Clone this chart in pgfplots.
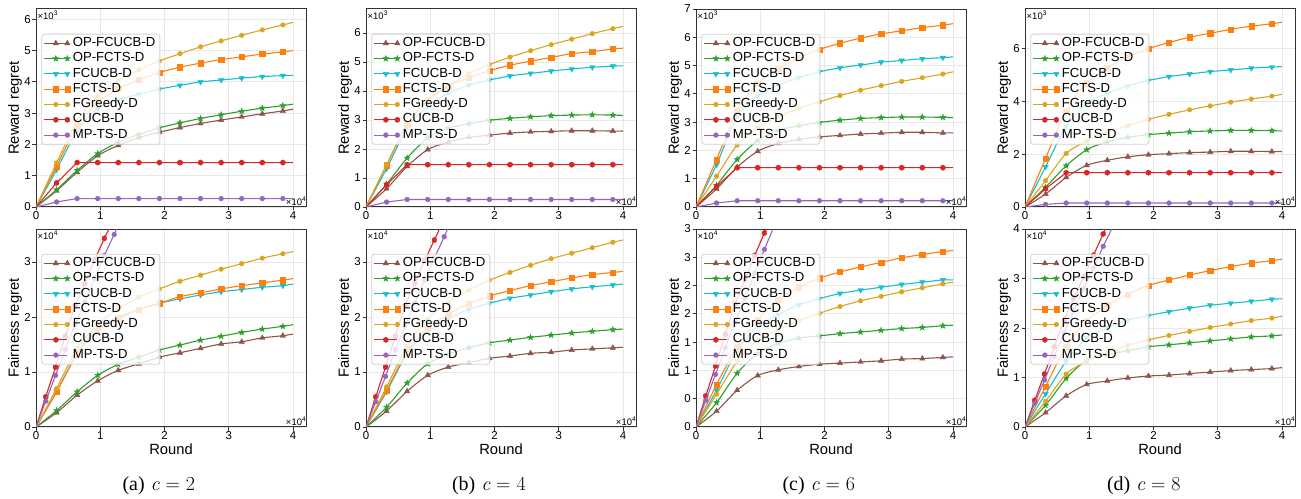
\documentclass[border=0pt]{standalone}
\usepackage{fontspec}
\setmainfont{Liberation Sans}
\newfontfamily\capfont{Liberation Serif}
\usepackage{pgfplots}
\pgfplotsset{compat=1.18}
\usepackage{pgfplotstable}
\usetikzlibrary{plotmarks}

\definecolor{cbrown}{HTML}{8C564B}
\definecolor{cgreen}{HTML}{2CA02C}
\definecolor{ccyan}{HTML}{17BECF}
\definecolor{corange}{HTML}{FF7F0E}
\definecolor{cgold}{HTML}{DBA520}
\definecolor{cred}{HTML}{D62728}
\definecolor{cpurple}{HTML}{9467BD}

\pgfdeclareplotmark{fstar}{%
 \pgfpathmoveto{\pgfpointpolar{90}{1.25\pgfplotmarksize}}%
 \pgfpathlineto{\pgfpointpolar{126}{0.5\pgfplotmarksize}}%
 \pgfpathlineto{\pgfpointpolar{162}{1.25\pgfplotmarksize}}%
 \pgfpathlineto{\pgfpointpolar{198}{0.5\pgfplotmarksize}}%
 \pgfpathlineto{\pgfpointpolar{234}{1.25\pgfplotmarksize}}%
 \pgfpathlineto{\pgfpointpolar{270}{0.5\pgfplotmarksize}}%
 \pgfpathlineto{\pgfpointpolar{306}{1.25\pgfplotmarksize}}%
 \pgfpathlineto{\pgfpointpolar{342}{0.5\pgfplotmarksize}}%
 \pgfpathlineto{\pgfpointpolar{18}{1.25\pgfplotmarksize}}%
 \pgfpathlineto{\pgfpointpolar{54}{0.5\pgfplotmarksize}}%
 \pgfpathclose\pgfusepathqfillstroke}
\pgfdeclareplotmark{hex}{%
 \pgfpathmoveto{\pgfpointpolar{90}{\pgfplotmarksize}}%
 \pgfpathlineto{\pgfpointpolar{150}{\pgfplotmarksize}}%
 \pgfpathlineto{\pgfpointpolar{210}{\pgfplotmarksize}}%
 \pgfpathlineto{\pgfpointpolar{270}{\pgfplotmarksize}}%
 \pgfpathlineto{\pgfpointpolar{330}{\pgfplotmarksize}}%
 \pgfpathlineto{\pgfpointpolar{30}{\pgfplotmarksize}}%
 \pgfpathclose\pgfusepathqfillstroke}

\newcommand\legfont{\fontsize{13.2}{14}\selectfont}

\pgfplotsset{
  panel/.style={
    scale only axis, width=270bp, height=198bp,
    xmin=0, xmax=4.2, ymin=0,
    xtick={0,1,2,3,4},
    clip mode=individual,
    axis line style={draw=black!80, line width=1bp},
    grid=major, grid style={draw=black!9, line width=0.8bp},
    tick align=outside, tick pos=left, major tick length=3.5bp,
    every tick/.style={draw=black!80, line width=0.8bp},
    ticklabel style={font=\fontsize{11.5}{13}\selectfont},
    xticklabel style={inner sep=1bp},
    yticklabel style={inner sep=1.5bp},
    /pgf/number format/assume math mode=true,
    label style={font=\fontsize{14.8}{17}\selectfont},
    ylabel style={at={(axis description cs:-0.078,0.5)}, anchor=center},
    xlabel style={at={(axis description cs:0.5,-0.111)}, anchor=center},
    legend style={at={(axis description cs:0.02,0.875)}, anchor=north west,
      draw=black!18, line width=0.8bp, fill=white, fill opacity=0.8,
      text opacity=1, draw opacity=1, rounded corners=2.5bp,
      font=\legfont, inner xsep=2bp, inner ysep=1.5bp,
      nodes={font=\legfont, text height=8.5bp, text depth=2.2bp, inner ysep=2.3bp, inner xsep=2.5bp},
      row sep=0pt},
    legend cell align=left,
    legend image code/.code={\draw[mark repeat=2,mark phase=2,##1] plot coordinates {(0bp,0bp)(11.5bp,0bp)(23bp,0bp)};},
    legend image post style={fill opacity=1, draw opacity=1},
    legend entries={OP-FCUCB-D,OP-FCTS-D,FCUCB-D,FCTS-D,FGreedy-D,CUCB-D,MP-TS-D},
  },
  sA/.style={cbrown, line width=1.1bp, smooth, tension=0.45, mark=triangle*, mark size=3.1bp, mark options={fill=cbrown, draw=cbrown, line width=0.4bp, solid}},
  sB/.style={cgreen, line width=1.1bp, smooth, tension=0.45, mark=fstar, mark size=2.5bp, mark options={fill=cgreen, draw=cgreen, line width=0.4bp, solid}},
  sC/.style={ccyan, line width=1.1bp, smooth, tension=0.45, mark=triangle*, mark size=3.1bp, mark options={fill=ccyan, draw=ccyan, rotate=180, line width=0.4bp, solid}},
  sD/.style={corange, line width=1.1bp, smooth, tension=0.45, mark=square*, mark size=2.6bp, mark options={fill=corange, draw=corange, line width=0.4bp, solid}},
  sE/.style={cgold, line width=1.1bp, smooth, tension=0.45, mark=*, mark size=2.3bp, mark options={fill=cgold, draw=cgold, line width=0.4bp, solid}},
  sF/.style={cred, line width=1.1bp, mark=hex, mark size=2.7bp, mark options={fill=cred, draw=cred, line width=0.4bp, solid}},
  sG/.style={cpurple, line width=1.1bp, mark=*, mark size=2.4bp, mark options={fill=cpurple, draw=cpurple, line width=0.4bp, solid}},
  mk/.style={mark indices={2,3,4,5,6,7,8,9,10,11,12,13}},
  mkb/.style={mark phase=2, mark repeat=1},
}

\newcommand\plotmain[1]{%
 \addplot[sA,mk] table[x=x,y=a]{#1};
 \addplot[sB,mk] table[x=x,y=b]{#1};
 \addplot[sC,mk] table[x=x,y=c]{#1};
 \addplot[sD,mk] table[x=x,y=d]{#1};
 \addplot[sE,mk] table[x=x,y=e]{#1};
}
\newcommand\plottop[1]{%
 \plotmain{#1}%
 \addplot[sF,mk] table[x=x,y=f]{#1};
 \addplot[sG,mk] table[x=x,y=g]{#1};
}
\newcommand\plotbot[2]{%
 \plotmain{#1}%
 \addplot[sF,mkb] table[x=x,y=f]{#2};
 \addplot[sG,mkb] table[x=x,y=g]{#2};
}
\newcommand\offy[1]{\node[anchor=north west, inner sep=1.5bp, font=\fontsize{9.5}{10}\selectfont] at (axis description cs:0,1) {×10\textsuperscript{#1}};}
\newcommand\offx{\node[anchor=south east, inner sep=1.2bp, font=\fontsize{9.5}{10}\selectfont] at (axis description cs:1.006,0) {×10\textsuperscript{4}};}
\newcommand\capt[3]{\node[font=\capfont\fontsize{20}{22}\selectfont, anchor=base] at (axis description cs:#3,-0.323) {(#1)\hspace{0.3em}{\fontfamily{lmr}\selectfont\itshape c\upshape\hspace{0.3em}=\hspace{0.3em}#2}};}

% ---------------- top row data (x 10^3) ----------------
\pgfplotstableread{
x a b c d e f g
0 0 0 0 0 0 0 0
0.32 0.52 0.55 1.19 1.30 1.41 0.77 0.16
0.64 1.11 1.17 2.45 2.60 2.75 1.42 0.27
0.96 1.64 1.71 3.15 3.35 3.56 1.42 0.27
1.28 1.97 2.07 3.43 3.77 4.04 1.42 0.27
1.60 2.22 2.32 3.61 4.07 4.39 1.42 0.27
1.92 2.39 2.53 3.77 4.30 4.67 1.42 0.27
2.24 2.54 2.69 3.89 4.47 4.90 1.42 0.27
2.56 2.67 2.83 4.00 4.60 5.12 1.42 0.27
2.88 2.78 2.95 4.06 4.71 5.31 1.42 0.27
3.20 2.88 3.06 4.12 4.80 5.49 1.42 0.27
3.52 2.98 3.16 4.17 4.89 5.66 1.42 0.27
3.84 3.07 3.24 4.20 4.96 5.82 1.42 0.27
4.00 3.13 3.29 4.21 5.00 5.90 1.42 0.27
}\tA
\pgfplotstableread{
x a b c d e f g
0 0 0 0 0 0 0 0
0.32 0.63 0.79 1.32 1.44 1.46 0.77 0.17
0.64 1.40 1.69 2.72 2.84 2.87 1.46 0.26
0.96 1.98 2.38 3.47 3.67 3.70 1.46 0.26
1.28 2.24 2.72 3.93 4.16 4.18 1.46 0.26
1.60 2.40 2.87 4.20 4.46 4.60 1.46 0.26
1.92 2.48 2.99 4.38 4.70 4.91 1.46 0.26
2.24 2.55 3.06 4.52 4.89 5.17 1.46 0.26
2.56 2.59 3.11 4.61 5.03 5.39 1.46 0.26
2.88 2.61 3.15 4.69 5.16 5.60 1.46 0.26
3.20 2.63 3.17 4.76 5.29 5.79 1.46 0.26
3.52 2.63 3.18 4.82 5.36 5.98 1.46 0.26
3.84 2.62 3.17 4.86 5.45 6.15 1.46 0.26
4.00 2.62 3.16 4.87 5.48 6.23 1.46 0.26
}\tB
\pgfplotstableread{
x a b c d e f g
0 0 0 0 0 0 0 0
0.32 0.64 0.77 1.50 1.68 1.09 0.73 0.14
0.64 1.41 1.68 3.20 3.39 2.19 1.39 0.22
0.96 1.97 2.35 3.92 4.37 2.80 1.39 0.22
1.28 2.25 2.71 4.31 4.89 3.19 1.39 0.22
1.60 2.39 2.87 4.57 5.27 3.49 1.39 0.22
1.92 2.48 2.99 4.78 5.57 3.72 1.39 0.22
2.24 2.53 3.07 4.92 5.79 3.94 1.39 0.22
2.56 2.58 3.13 5.02 5.97 4.13 1.39 0.22
2.88 2.61 3.16 5.12 6.12 4.29 1.39 0.22
3.20 2.64 3.18 5.18 6.23 4.44 1.39 0.22
3.52 2.64 3.18 5.24 6.34 4.57 1.39 0.22
3.84 2.62 3.17 5.28 6.43 4.70 1.39 0.22
4.00 2.62 3.16 5.31 6.48 4.78 1.39 0.22
}\tC
\pgfplotstableread{
x a b c d e f g
0 0 0 0 0 0 0 0
0.32 0.49 0.75 1.52 1.84 1.00 0.69 0.10
0.64 1.12 1.56 3.06 3.66 2.03 1.30 0.15
0.96 1.58 2.17 3.92 4.69 2.50 1.30 0.15
1.28 1.77 2.47 4.31 5.27 2.85 1.30 0.15
1.60 1.90 2.64 4.59 5.69 3.08 1.30 0.15
1.92 1.98 2.74 4.79 6.00 3.32 1.30 0.15
2.24 2.02 2.80 4.94 6.23 3.51 1.30 0.15
2.56 2.06 2.85 5.04 6.43 3.68 1.30 0.15
2.88 2.08 2.88 5.13 6.58 3.83 1.30 0.15
3.20 2.11 2.90 5.19 6.73 3.97 1.30 0.15
3.52 2.11 2.90 5.26 6.85 4.09 1.30 0.15
3.84 2.10 2.89 5.30 6.94 4.20 1.30 0.15
4.00 2.10 2.88 5.32 7.00 4.27 1.30 0.15
}\tD
% ---------------- bottom row data (x 10^4) ----------------
\pgfplotstableread{
x a b c d e
0 0 0 0 0 0
0.32 0.26 0.30 0.64 0.64 0.70
0.64 0.58 0.64 1.34 1.33 1.43
0.96 0.84 0.94 1.79 1.76 1.86
1.28 1.03 1.14 2.00 1.96 2.15
1.60 1.15 1.27 2.14 2.14 2.36
1.92 1.27 1.40 2.25 2.25 2.51
2.24 1.35 1.49 2.33 2.37 2.65
2.56 1.43 1.58 2.40 2.44 2.76
2.88 1.51 1.65 2.46 2.51 2.87
3.20 1.55 1.72 2.50 2.57 2.97
3.52 1.62 1.78 2.54 2.62 3.07
3.84 1.66 1.83 2.57 2.67 3.15
4.00 1.69 1.86 2.60 2.70 3.19
}\bA
\pgfplotstableread{
x a b c d e
0 0 0 0 0 0
0.32 0.29 0.36 0.64 0.67 0.73
0.64 0.65 0.80 1.34 1.37 1.47
0.96 0.94 1.15 1.73 1.79 1.96
1.28 1.09 1.32 1.97 2.05 2.26
1.60 1.17 1.44 2.14 2.24 2.49
1.92 1.25 1.53 2.25 2.38 2.67
2.24 1.29 1.58 2.34 2.48 2.81
2.56 1.34 1.63 2.40 2.57 2.94
2.88 1.36 1.67 2.46 2.64 3.06
3.20 1.40 1.71 2.51 2.71 3.16
3.52 1.42 1.74 2.55 2.77 3.26
3.84 1.44 1.77 2.58 2.81 3.36
4.00 1.45 1.78 2.60 2.83 3.40
}\bB
\pgfplotstableread{
x a b c d e
0 0 0 0 0 0
0.32 0.28 0.43 0.65 0.75 0.58
0.64 0.65 0.95 1.36 1.42 1.16
0.96 0.91 1.30 1.78 1.90 1.54
1.28 1.01 1.48 1.99 2.25 1.72
1.60 1.07 1.57 2.16 2.47 1.88
1.92 1.11 1.61 2.27 2.63 2.01
2.24 1.13 1.65 2.36 2.74 2.13
2.56 1.15 1.68 2.42 2.83 2.23
2.88 1.17 1.71 2.47 2.91 2.31
3.20 1.20 1.74 2.52 2.99 2.39
3.52 1.21 1.76 2.56 3.05 2.46
3.84 1.23 1.79 2.60 3.10 2.53
4.00 1.24 1.80 2.60 3.12 2.56
}\bC
\pgfplotstableread{
x a b c d e
0 0 0 0 0 0
0.32 0.29 0.44 0.67 0.82 0.52
0.64 0.63 0.98 1.33 1.63 1.07
0.96 0.86 1.35 1.80 2.14 1.33
1.28 0.93 1.46 2.00 2.46 1.51
1.60 0.99 1.54 2.16 2.68 1.65
1.92 1.03 1.62 2.25 2.86 1.76
2.24 1.05 1.66 2.33 2.97 1.85
2.56 1.08 1.70 2.40 3.07 1.93
2.88 1.11 1.74 2.46 3.16 2.01
3.20 1.14 1.78 2.50 3.24 2.08
3.52 1.16 1.82 2.54 3.31 2.15
3.84 1.18 1.84 2.58 3.36 2.20
4.00 1.20 1.86 2.59 3.39 2.24
}\bD
\pgfplotstableread{
x f g
0 0 0
0.152 0.55 0.47
0.304 1.09 0.94
0.456 1.65 1.41
0.608 2.21 1.87
0.760 2.61 2.28
0.912 3.04 2.70
1.064 3.43 3.12
1.216 3.80 3.50
1.368 4.20 3.90
}\rA
\pgfplotstableread{
x f g
0 0 0
0.152 0.55 0.46
0.304 1.09 0.92
0.456 1.65 1.40
0.608 2.21 1.84
0.760 2.62 2.26
0.912 3.03 2.67
1.064 3.40 3.07
1.216 3.78 3.46
1.368 4.15 3.85
}\rB
\pgfplotstableread{
x f g
0 0 0
0.152 0.55 0.47
0.304 1.08 0.93
0.456 1.64 1.40
0.608 2.18 1.86
0.760 2.60 2.27
0.912 3.03 2.72
1.064 3.43 3.14
1.216 3.80 3.55
1.368 4.20 3.95
}\rC
\pgfplotstableread{
x f g
0 0 0
0.152 0.54 0.48
0.304 1.07 0.95
0.456 1.62 1.43
0.608 2.16 1.90
0.760 2.60 2.37
0.912 3.03 2.79
1.064 3.47 3.21
1.216 3.90 3.65
1.368 4.30 4.05
}\rD

\begin{document}
\begin{tikzpicture}
\path[use as bounding box] (0,0) rectangle (1301bp,499bp);
% ---- top row ----
\begin{axis}[panel, at={(36bp,292bp)}, anchor=south west, ymax=6.33, ytick={0,1,2,3,4,5,6}, ylabel={Reward regret}]
\plottop{\tA}\offy{3}\offx
\end{axis}
\begin{axis}[panel, at={(366bp,292bp)}, anchor=south west, ymax=6.83, ytick={0,1,2,3,4,5,6}, ylabel={Reward regret}]
\plottop{\tB}\offy{3}\offx
\end{axis}
\begin{axis}[panel, at={(696bp,292bp)}, anchor=south west, ymax=7.0, ytick={0,1,2,3,4,5,6,7}, ylabel={Reward regret}]
\plottop{\tC}\offy{3}\offx
\end{axis}
\begin{axis}[panel, at={(1025bp,292bp)}, anchor=south west, ymax=7.5, ytick={0,2,4,6}, ylabel={Reward regret}]
\plottop{\tD}\offy{3}\offx
\end{axis}
% ---- bottom row ----
\begin{axis}[panel, at={(36bp,72bp)}, anchor=south west, ymax=3.6, ytick={0,1,2,3}, ylabel={Fairness regret}, xlabel={Round}]
\plotbot{\bA}{\rA}\offy{4}\offx\capt{a}{2}{0.455}
\end{axis}
\begin{axis}[panel, at={(366bp,72bp)}, anchor=south west, ymax=3.6, ytick={0,1,2,3}, ylabel={Fairness regret}, xlabel={Round}]
\plotbot{\bB}{\rB}\offy{4}\offx\capt{b}{4}{0.455}
\end{axis}
\begin{axis}[panel, at={(696bp,72bp)}, anchor=south west, ymax=3.5, ytick={0,0.5,1,1.5,2,2.5,3,3.5}, yticklabels={0,0,1,1,2,2,3,3}, ylabel={Fairness regret}, xlabel={Round}]
\plotbot{\bC}{\rC}\offy{4}\offx\capt{c}{6}{0.455}
\end{axis}
\begin{axis}[panel, at={(1025bp,72bp)}, anchor=south west, ymax=4, ytick={0,1,2,3,4}, ylabel={Fairness regret}, xlabel={Round}]
\plotbot{\bD}{\rD}\offy{4}\offx\capt{d}{8}{0.44}
\end{axis}
\end{tikzpicture}
\end{document}
